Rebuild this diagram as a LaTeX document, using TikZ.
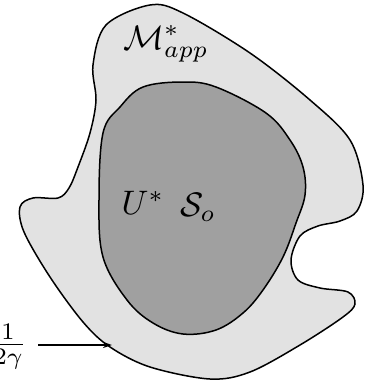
\documentclass[tikz,border=0pt]{standalone}
\usetikzlibrary{arrows.meta}
\definecolor{outerfill}{RGB}{226,226,226}
\definecolor{innerfill}{RGB}{160,160,160}
\tikzset{
  region/.style={draw=black, line width=1.5pt},
  lbl/.style={inner sep=0pt, scale=3.4},
  pointer/.style={line width=1.4pt, -{Stealth[length=9pt,width=6pt]}}
}
\begin{document}
\begin{tikzpicture}[x=1pt,y=-1pt]
\useasboundingbox (0,0) rectangle (366,381);
% outer region
\draw[region, fill=outerfill] plot[smooth cycle, tension=0.55] coordinates {
 (150,5) (183,13) (250,53) (310,100) (350,140) (363,185) (357,211) (340,221)
 (318,226) (300,236) (291,260) (298,280) (320,288) (348,292) (355,304)
 (343,317) (300,345) (250,372) (210,379) (150,367) (110,347) (83,322)
 (50,277) (24,232) (20,207) (33,198) (58,198) (69,188) (78,167) (90,133)
 (96,100) (93,65) (106,25)};
% inner region
\draw[region, fill=innerfill] plot[smooth cycle, tension=0.6] coordinates {
 (183,82) (216,87) (266,113) (290,140) (303,167) (305,195) (296,223)
 (283,257) (263,290) (243,313) (216,330) (183,334) (153,323) (127,300)
 (103,257) (99,200) (103,133) (120,107) (143,87)};
% labels
\node[lbl] (M) at (166,44) {$\mathcal{M}^*_{app}$};
\node[lbl] (U) at (143,203) {$U^*$};
\node[lbl] (S) at (198,207) {$\mathcal{S}_o$};
\node[lbl] (F) at (8,347) {$\frac{1}{2\gamma}$};
\coordinate (tip) at (112,345);
\draw[pointer] (38,345) -- (tip);
\end{tikzpicture}
\end{document}
